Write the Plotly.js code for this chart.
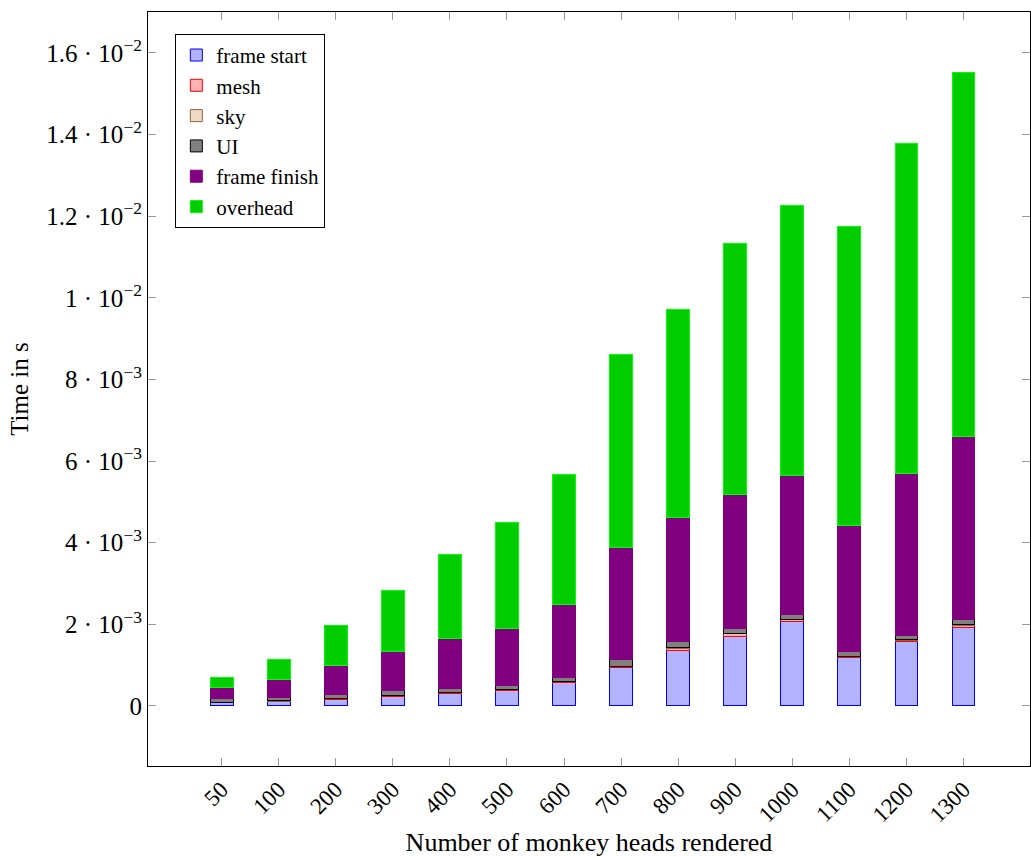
<!DOCTYPE html>
<html>
<head>
<meta charset="utf-8">
<script src="https://cdn.plot.ly/plotly-3.0.1.min.js"></script>
<style>
html,body{margin:0;padding:0;background:#fff;}
#chart{width:1031px;height:857px;}
</style>
</head>
<body>
<div id="chart"></div>
<script>
// Categories: number of monkey heads rendered
var categories = ["50","100","200","300","400","500","600","700","800","900","1000","1100","1200","1300"];

// Series values, in units of 1e-3 s (converted to seconds below)
var frameStart  = [0.080,0.115,0.170,0.240,0.310,0.390,0.580,0.955,1.350,1.710,2.060,1.190,1.590,1.930];
var mesh        = [0.005,0.005,0.010,0.020,0.010,0.015,0.010,0.015,0.070,0.060,0.060,0.020,0.020,0.050];
var sky         = [0.005,0.005,0.005,0.005,0.005,0.005,0.005,0.005,0.020,0.010,0.010,0.010,0.010,0.015];
var ui          = [0.085,0.095,0.095,0.110,0.100,0.100,0.095,0.155,0.150,0.130,0.110,0.105,0.105,0.125];
var frameFinish = [0.285,0.420,0.700,0.950,1.225,1.400,1.800,2.755,3.020,3.260,3.400,3.085,3.965,4.480];
var overhead    = [0.240,0.490,1.000,1.505,2.050,2.580,3.190,4.730,5.110,6.170,6.610,7.340,8.090,8.910];

// Y tick labels
var yTickVals = [0,0.002,0.004,0.006,0.008,0.010,0.012,0.014,0.016];
var yTickText = ["0","2 · 10<sup>−3</sup>","4 · 10<sup>−3</sup>","6 · 10<sup>−3</sup>","8 · 10<sup>−3</sup>",
                 "1 · 10<sup>−2</sup>","1.2 · 10<sup>−2</sup>","1.4 · 10<sup>−2</sup>","1.6 · 10<sup>−2</sup>"];

function toSeconds(arr){ return arr.map(function(v){ return v*1e-3; }); }

var FONT = "Liberation Serif, Times New Roman, serif";

function bar(name, vals, fill, line){
  return {
    type: "bar",
    name: name,
    x: categories,
    y: toSeconds(vals),
    width: 0.4,
    marker: {color: fill, line: {color: line, width: 1}},
    hoverinfo: "x+y+name"
  };
}

var data = [
  bar("frame start", frameStart, "rgb(179,179,255)", "rgb(0,0,255)"),
  bar("mesh", mesh, "rgb(255,179,179)", "rgb(255,0,0)"),
  bar("sky", sky, "rgb(236,217,198)", "rgb(150,100,60)"),
  bar("UI", ui, "rgb(128,128,128)", "rgb(0,0,0)"),
  bar("frame finish", frameFinish, "rgb(128,0,128)", "rgb(128,0,128)"),
  bar("overhead", overhead, "rgb(0,204,0)", "rgb(0,255,0)")
];

var layout = {
  width: 1031,
  height: 857,
  margin: {l: 148, r: 1, t: 12, b: 91, pad: 0},
  paper_bgcolor: "#fff",
  plot_bgcolor: "#fff",
  barmode: "stack",
  font: {family: FONT, size: 23, color: "#000"},
  showlegend: true,
  legend: {
    x: 0.031, y: 0.971, xanchor: "left", yanchor: "top",
    traceorder: "normal",
    bgcolor: "#fff", bordercolor: "#000", borderwidth: 1,
    font: {family: FONT, size: 21, color: "#000"},
    tracegroupgap: 0
  },
  xaxis: {
    type: "category",
    range: [-1.29, 14.165],
    tickangle: -45,
    ticks: "inside", ticklen: 8, tickcolor: "#999", tickwidth: 1,
    showline: true, linecolor: "#000", linewidth: 1, mirror: "ticks",
    showgrid: false, zeroline: false,
    tickfont: {family: FONT, size: 23},
    title: {text: "Number of monkey heads rendered", font: {family: FONT, size: 26}, standoff: 14}
  },
  yaxis: {
    range: [-0.00147, 0.0170],
    tickvals: yTickVals,
    ticktext: yTickText,
    ticks: "inside", ticklen: 8, tickcolor: "#999", tickwidth: 1,
    showline: true, linecolor: "#000", linewidth: 1, mirror: "ticks",
    showgrid: false, zeroline: false,
    tickfont: {family: FONT, size: 25},
    title: {text: "Time in s", font: {family: FONT, size: 25}, standoff: 10}
  }
};

Plotly.newPlot("chart", data, layout, {displayModeBar: false, staticPlot: true});
</script>
</body>
</html>
